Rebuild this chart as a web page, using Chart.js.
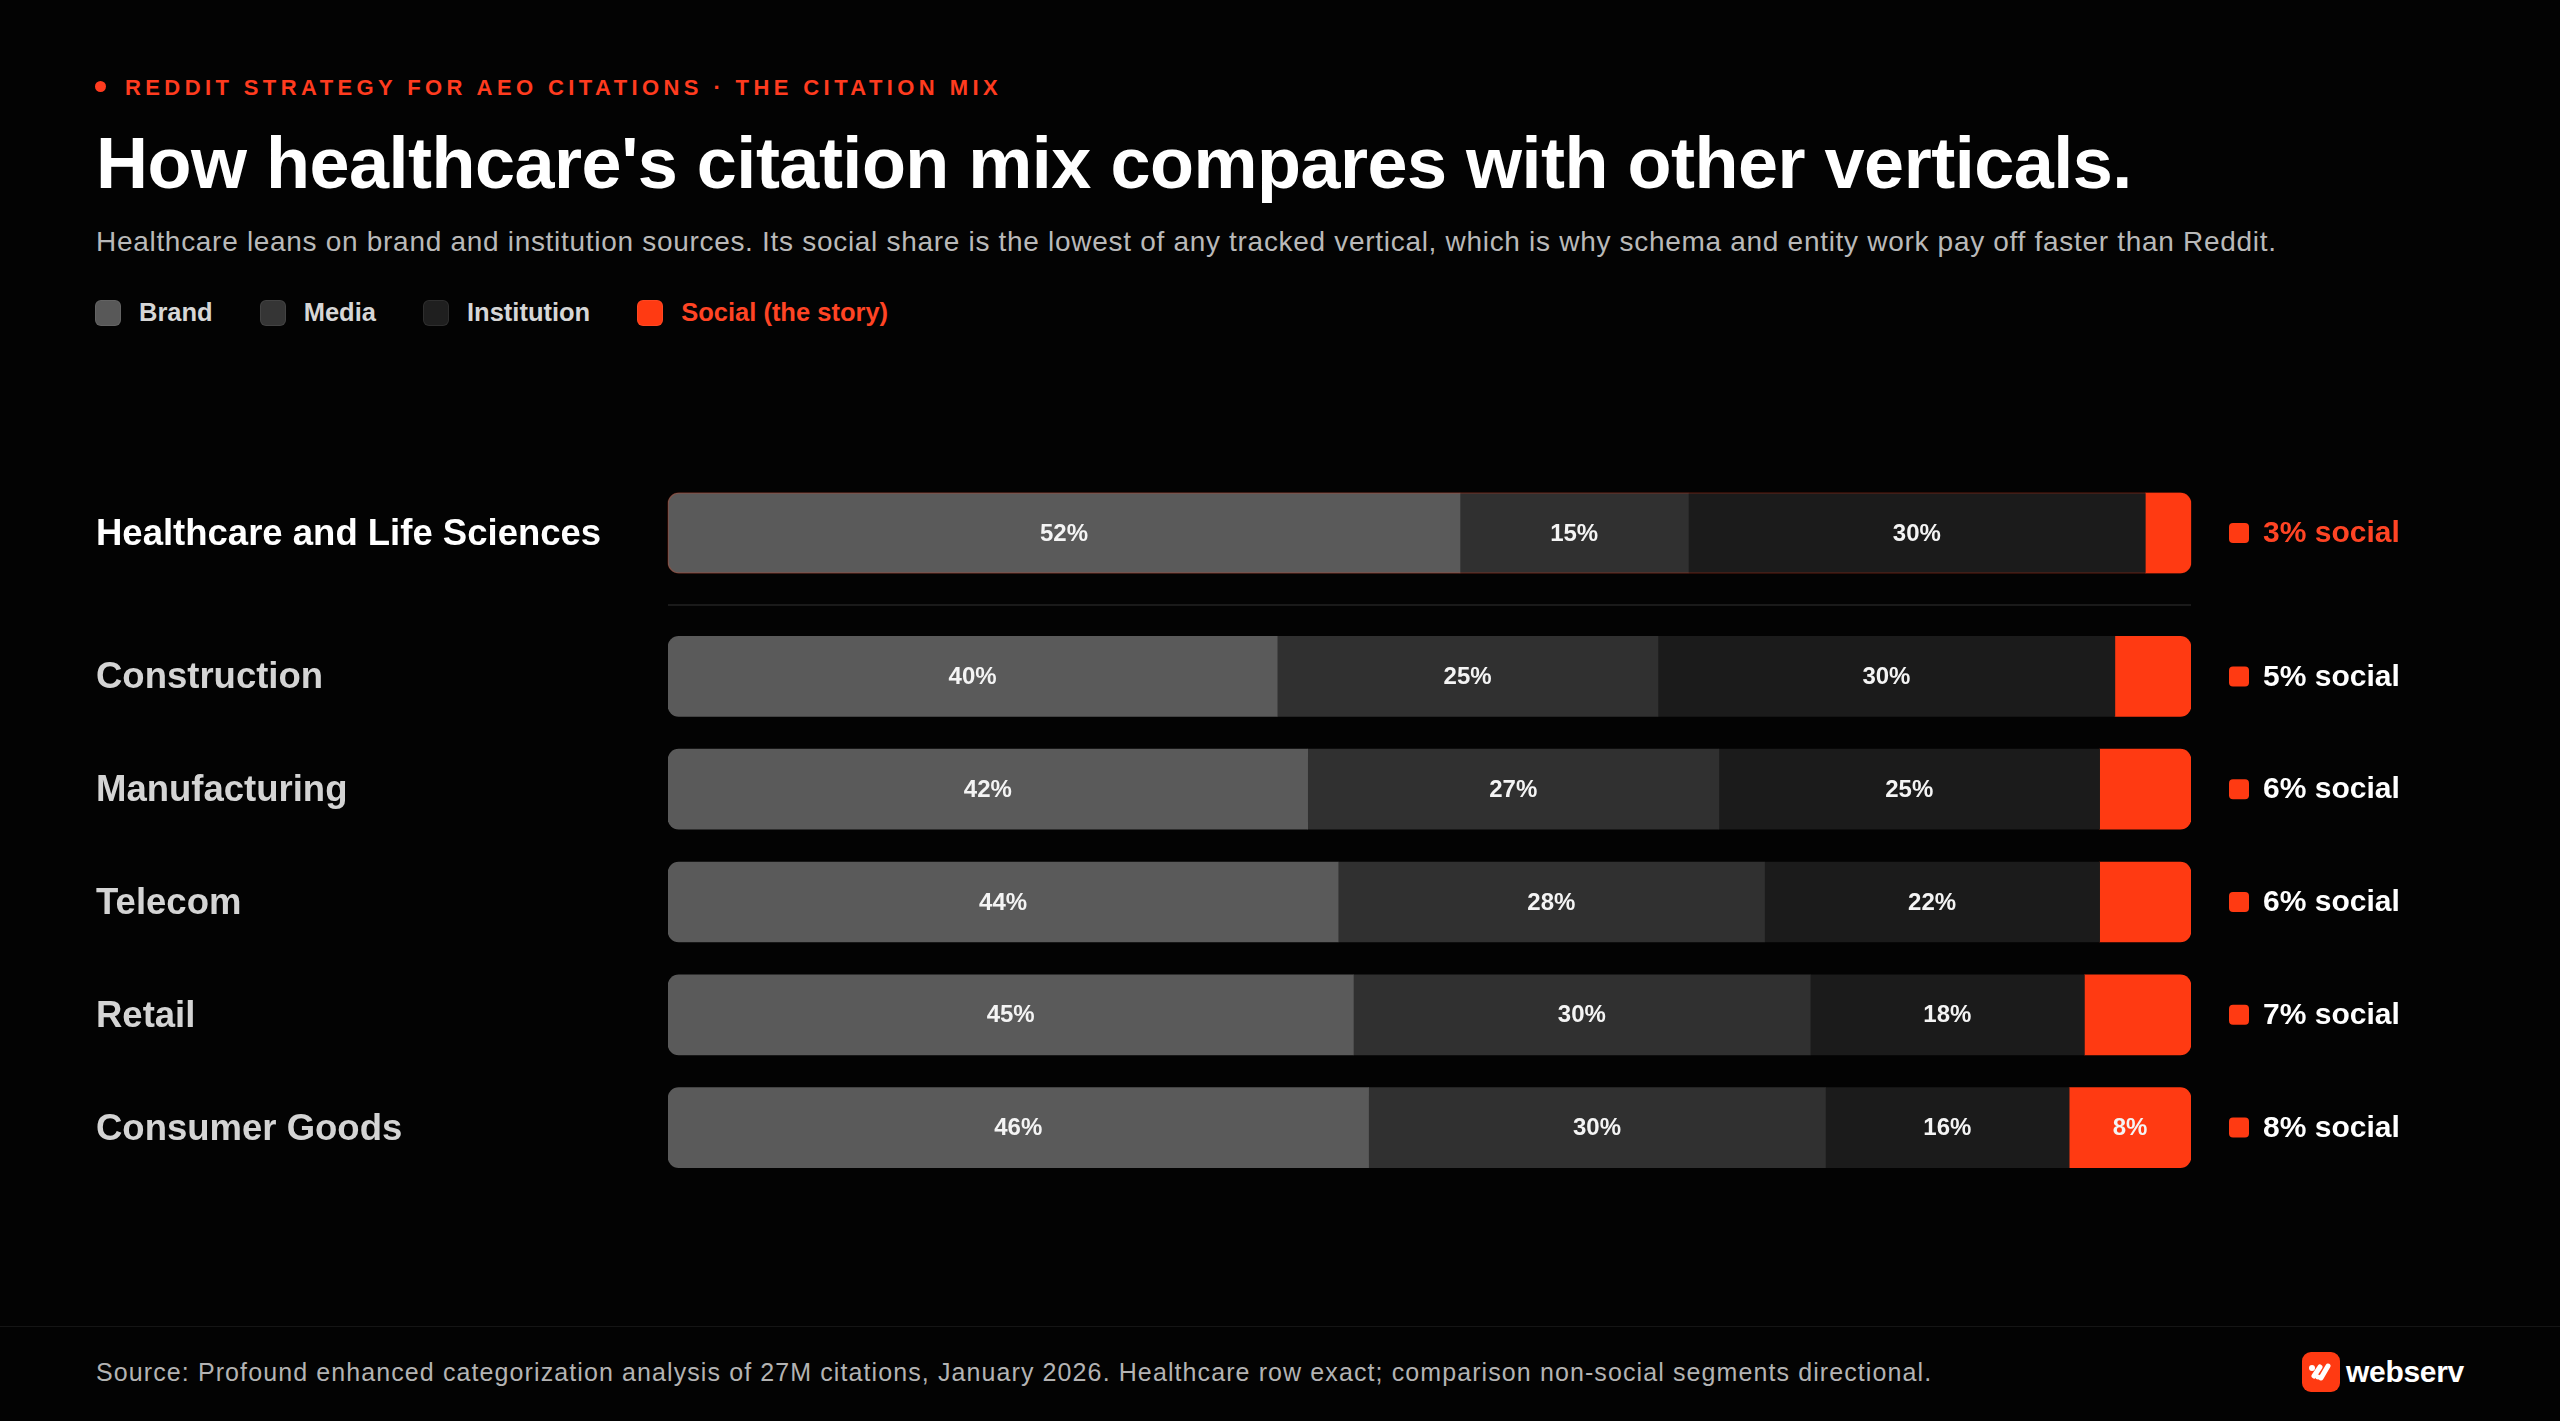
<!DOCTYPE html>
<html>
<head>
<meta charset="utf-8">
<script src="https://cdn.jsdelivr.net/npm/chart.js@4.4.1/dist/chart.umd.min.js"></script>
<style>
  html, body { margin: 0; padding: 0; background: #030303; }
  body { width: 2560px; height: 1421px; position: relative; overflow: hidden; font-family: "Liberation Sans", Arial, sans-serif; }
  .eyebrow { position: absolute; left: 95px; top: 77px; font-size: 22px; line-height: 22px; font-weight: 700; letter-spacing: 4.4px; color: #ff3b1f; white-space: nowrap; }
  .eyebrow .dot { display: inline-block; width: 11px; height: 11px; border-radius: 50%; background: #ff3b1f; margin-right: 19px; position: relative; top: -3px; }
  h1 { position: absolute; left: 96px; top: 127px; margin: 0; font-size: 72px; line-height: 72px; font-weight: 700; letter-spacing: -0.5px; color: #fff; white-space: nowrap; }
  .sub { position: absolute; left: 96px; top: 228px; font-size: 28px; line-height: 28px; letter-spacing: 0.7px; color: #b9b9b9; white-space: nowrap; }
  .legend { position: absolute; left: 95px; top: 298px; display: flex; gap: 47px; }
  .legend .item { display: flex; align-items: center; font-size: 25.5px; font-weight: 700; color: #d6d6d6; }
  .legend .item i { display: inline-block; width: 26px; height: 26px; border-radius: 6px; margin-right: 18px; box-shadow: inset 0 0 0 1px rgba(255,255,255,0.07); }
  .chartbox { position: absolute; left: 96px; width: 2360px; }
  #topBox { top: 473px; height: 120px; }
  #restBox { top: 620px; height: 564px; }
  .divider { position: absolute; left: 668px; width: 1523px; top: 604px; height: 2px; background: #1a1a1a; }
  .footline { position: absolute; left: 0; width: 2560px; top: 1326px; height: 1px; background: #151515; }
  .source { position: absolute; left: 96px; top: 1360px; font-size: 25px; line-height: 25px; color: #b3b3b3; letter-spacing: 1.1px; white-space: nowrap; }
  .logo { position: absolute; left: 2302px; top: 1352px; height: 40px; display: flex; align-items: center; font-size: 30px; font-weight: 700; color: #fff; letter-spacing: -0.3px; }
  .logo .mark { width: 38px; height: 40px; border-radius: 9px; background: #ff3a12; margin-right: 6px; display: flex; align-items: center; justify-content: center; }
</style>
</head>
<body>
<div class="eyebrow"><span class="dot"></span>REDDIT STRATEGY FOR AEO CITATIONS · THE CITATION MIX</div>
<h1>How healthcare's citation mix compares with other verticals.</h1>
<div class="sub">Healthcare leans on brand and institution sources. Its social share is the lowest of any tracked vertical, which is why schema and entity work pay off faster than Reddit.</div>
<div class="legend" id="legend"></div>

<div class="chartbox" id="topBox"><canvas id="topChart"></canvas></div>
<div class="divider"></div>
<div class="chartbox" id="restBox"><canvas id="restChart"></canvas></div>

<div class="footline"></div>
<div class="source">Source: Profound enhanced categorization analysis of 27M citations, January 2026. Healthcare row exact; comparison non-social segments directional.</div>
<div class="logo"><span class="mark"><svg width="28" height="24" viewBox="0 0 28 24"><circle cx="5" cy="8" r="3" fill="#fff"/><path d="M7 16 L13 7 M14 18 L21 6" stroke="#fff" stroke-width="5" stroke-linecap="round" fill="none"/><circle cx="11" cy="17" r="2.5" fill="#fff"/></svg></span>webserv</div>

<script>
// shares of citations, percent
const verticals = ['Healthcare and Life Sciences', 'Construction', 'Manufacturing', 'Telecom', 'Retail', 'Consumer Goods']
const brandShare = [52, 40, 42, 44, 45, 46]
const mediaShare = [15, 25, 27, 28, 30, 30]
const institutionShare = [30, 30, 25, 22, 18, 16]
const socialShare = [3, 5, 6, 6, 7, 8]

const seriesNames = ['Brand', 'Media', 'Institution', 'Social (the story)']
const seriesColours = ['#5a5a5a', '#303030', '#1b1b1b', '#ff3a12']
const legendColours = ['#585858', '#353535', '#1f1f1f', '#ff3a12']

const red = '#ff3a12'
const fontFamily = '"Liberation Sans", Arial, sans-serif'

// html legend
let legend = document.getElementById('legend')
seriesNames.forEach((name, i) => {
  let item = document.createElement('span')
  item.className = 'item'
  if (i === 3) item.style.color = '#ff4424'
  item.innerHTML = `<i style="background:${legendColours[i]}"></i>${name}`
  legend.appendChild(item)
})

const segmentLabels = {
  id: 'segmentLabels',
  afterDatasetsDraw(chart) {
    let ctx = chart.ctx
    ctx.save()
    ctx.font = `bold 24px ${fontFamily}`
    ctx.textAlign = 'center'
    ctx.textBaseline = 'middle'
    ctx.fillStyle = '#f4f4f4'
    chart.data.datasets.forEach((ds, di) => {
      chart.getDatasetMeta(di).data.forEach((bar, i) => {
        let v = ds.data[i]
        if (v < 8) return
        ctx.fillText(v + '%', (bar.x + bar.base) / 2, bar.y + 1)
      })
    })
    ctx.restore()
  }
}

const socialMarkers = {
  id: 'socialMarkers',
  afterDraw(chart) {
    let s = chart.scales.y2
    let ctx = chart.ctx
    ctx.save()
    ctx.fillStyle = red
    s.ticks.forEach((t, i) => {
      let y = s.getPixelForTick(i)
      ctx.beginPath()
      ctx.roundRect(s.left + 38, y - 10, 20, 20, 4)
      ctx.fill()
    })
    ctx.restore()
  }
}

const heroOutline = {
  id: 'heroOutline',
  afterDatasetsDraw(chart, args, opts) {
    if (!opts.show) return
    let first = chart.getDatasetMeta(0).data[0]
    let last = chart.getDatasetMeta(3).data[0]
    let ctx = chart.ctx
    ctx.save()
    ctx.strokeStyle = 'rgba(255,58,18,0.22)'
    ctx.lineWidth = 1.5
    ctx.beginPath()
    ctx.roundRect(first.base, first.y - first.height / 2, last.x - first.base, first.height, 11)
    ctx.stroke()
    ctx.restore()
  }
}

// labels must not eat into the chart area
function noEdgePadding(scale) {
  scale.paddingTop = 0
  scale.paddingBottom = 0
}

function buildChart(canvasId, rows) {
  let pick = arr => rows.map(i => arr[i])
  let shares = [brandShare, mediaShare, institutionShare, socialShare]
  let radii = [
    {topLeft: 11, bottomLeft: 11, topRight: 0, bottomRight: 0},
    0,
    0,
    {topLeft: 0, bottomLeft: 0, topRight: 11, bottomRight: 11},
  ]
  let datasets = shares.map((arr, i) => ({
    label: seriesNames[i],
    data: pick(arr),
    backgroundColor: seriesColours[i],
    borderRadius: radii[i],
    borderSkipped: false,
    barThickness: 80,
  }))

  return new Chart(document.getElementById(canvasId), {
    type: 'bar',
    data: {
      labels: pick(verticals),
      datasets: datasets,
    },
    options: {
      indexAxis: 'y',
      responsive: true,
      maintainAspectRatio: false,
      animation: false,
      layout: {padding: 0},
      plugins: {
        legend: {display: false},
        tooltip: {enabled: false},
        heroOutline: {show: rows.includes(0)},
      },
      scales: {
        x: {stacked: true, min: 0, max: 100, display: false},
        y: {
          stacked: true,
          grid: {display: false, drawTicks: false},
          border: {display: false},
          ticks: {
            crossAlign: 'far',
            padding: 0,
            labelOffset: 2,
            color: ctx => rows[ctx.index] === 0 ? '#ffffff' : '#d4d4d4',
            font: {family: fontFamily, size: 36.5, weight: 'bold'},
          },
          afterFit(scale) {
            scale.width = 572
            noEdgePadding(scale)
          },
        },
        y2: {
          type: 'category',
          position: 'right',
          labels: pick(socialShare).map(v => v + '% social'),
          offset: true,
          grid: {display: false, drawTicks: false},
          border: {display: false},
          ticks: {
            crossAlign: 'near',
            padding: 72,
            labelOffset: 1,
            color: ctx => rows[ctx.index] === 0 ? '#ff4424' : '#ffffff',
            font: {family: fontFamily, size: 30, weight: 'bold'},
          },
          afterFit(scale) {
            scale.width = 2360 - 572 - 1523
            noEdgePadding(scale)
          },
        },
      },
    },
    plugins: [segmentLabels, socialMarkers, heroOutline],
  })
}

buildChart('topChart', [0])
buildChart('restChart', [1, 2, 3, 4, 5])
</script>
</body>
</html>
